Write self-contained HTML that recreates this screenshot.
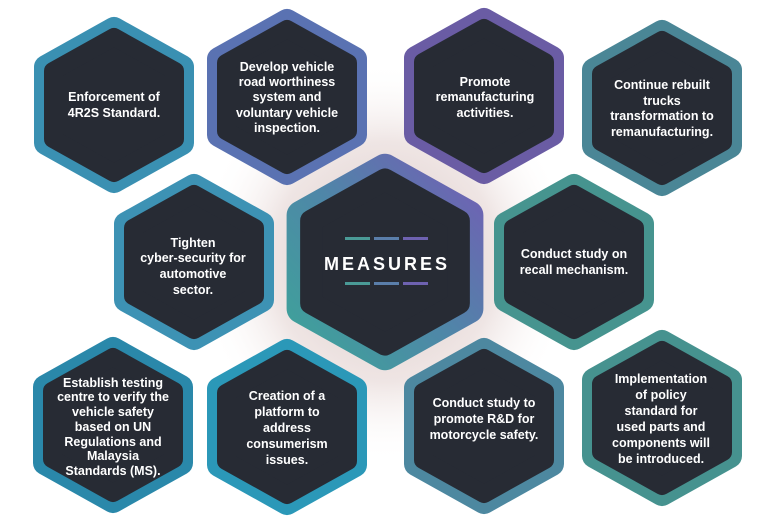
<!DOCTYPE html>
<html><head><meta charset="utf-8"><style>
html,body{margin:0;padding:0;background:#fff;}
svg{display:block;}
text{font-family:"Liberation Sans",sans-serif;font-weight:bold;fill:#fff;font-size:12.5px;text-anchor:middle;}
</style></head><body>
<svg width="782" height="524" viewBox="0 0 782 524" xmlns="http://www.w3.org/2000/svg">
<defs>
<radialGradient id="glow" cx="0.5" cy="0.5" r="0.5">
<stop offset="0" stop-color="#d6c2c0" stop-opacity="0.95"/>
<stop offset="0.6" stop-color="#e4d4d2" stop-opacity="0.6"/>
<stop offset="1" stop-color="#ffffff" stop-opacity="0"/>
</radialGradient>
<linearGradient id="cg" x1="0" y1="1" x2="1" y2="0">
<stop offset="0" stop-color="#3ea29a"/>
<stop offset="0.5" stop-color="#4f86a8"/>
<stop offset="1" stop-color="#7060b4"/>
</linearGradient>
<g id="hx">
<polygon points="0,-76 68,-38 68,38 0,76 -68,38 -68,-38" fill="currentColor" stroke="currentColor" stroke-width="24" stroke-linejoin="round"/>
<polygon points="0,-68 61,-34 61,34 0,68 -61,34 -61,-34" fill="#272b34" stroke="#272b34" stroke-width="18" stroke-linejoin="round"/>
</g>
</defs>
<ellipse cx="385" cy="262" rx="190" ry="200" fill="url(#glow)"/>

<use href="#hx" transform="translate(114,105)" color="#3a90b2"/>
<use href="#hx" transform="translate(287,97)" color="#5a72b2"/>
<use href="#hx" transform="translate(484,96)" color="#6a5ca4"/>
<use href="#hx" transform="translate(662,108)" color="#4a8696"/>
<use href="#hx" transform="translate(194,262)" color="#3d92b4"/>
<use href="#hx" transform="translate(574,262)" color="#46948f"/>
<use href="#hx" transform="translate(113,425)" color="#2a88aa"/>
<use href="#hx" transform="translate(287,427)" color="#2b98b8"/>
<use href="#hx" transform="translate(484,426)" color="#4d88a0"/>
<use href="#hx" transform="translate(662,418)" color="#46928f"/>

<g transform="translate(385,262) scale(1.23)">
<polygon points="0,-76 68,-38 68,38 0,76 -68,38 -68,-38" fill="url(#cg)" stroke="url(#cg)" stroke-width="24" stroke-linejoin="round"/>
<polygon points="0,-67 60,-33.5 60,33.5 0,67 -60,33.5 -60,-33.5" fill="#272b34" stroke="#272b34" stroke-width="18" stroke-linejoin="round"/>
</g>
<g>
<rect x="345" y="237" width="25" height="3" fill="#4a9a96"/>
<rect x="374" y="237" width="25" height="3" fill="#5a7eaa"/>
<rect x="403" y="237" width="25" height="3" fill="#6e62b0"/>
<rect x="345" y="282" width="25" height="3" fill="#4a9a96"/>
<rect x="374" y="282" width="25" height="3" fill="#5a7eaa"/>
<rect x="403" y="282" width="25" height="3" fill="#6e62b0"/>
</g>
<text x="387" y="270" style="font-size:18px;letter-spacing:3px">MEASURES</text>

<text x="114" y="101">Enforcement of</text>
<text x="114" y="117">4R2S Standard.</text>

<text x="287" y="71">Develop vehicle</text>
<text x="287" y="86">road worthiness</text>
<text x="287" y="101">system and</text>
<text x="287" y="117">voluntary vehicle</text>
<text x="287" y="132">inspection.</text>

<text x="485" y="86">Promote</text>
<text x="485" y="101">remanufacturing</text>
<text x="485" y="117">activities.</text>

<text x="662" y="89">Continue rebuilt</text>
<text x="662" y="105">trucks</text>
<text x="662" y="120">transformation to</text>
<text x="662" y="136">remanufacturing.</text>

<text x="193" y="247">Tighten</text>
<text x="193" y="262">cyber-security for</text>
<text x="193" y="278">automotive</text>
<text x="193" y="294">sector.</text>

<text x="574" y="258">Conduct study on</text>
<text x="574" y="274">recall mechanism.</text>

<text x="113" y="387">Establish testing</text>
<text x="113" y="401">centre to verify the</text>
<text x="113" y="416">vehicle safety</text>
<text x="113" y="431">based on UN</text>
<text x="113" y="446">Regulations and</text>
<text x="113" y="460">Malaysia</text>
<text x="113" y="475">Standards (MS).</text>

<text x="287" y="400">Creation of a</text>
<text x="287" y="416">platform to</text>
<text x="287" y="432">address</text>
<text x="287" y="448">consumerism</text>
<text x="287" y="464">issues.</text>

<text x="484" y="407">Conduct study to</text>
<text x="484" y="423">promote R&amp;D for</text>
<text x="484" y="439">motorcycle safety.</text>

<text x="661" y="383">Implementation</text>
<text x="661" y="399">of policy</text>
<text x="661" y="415">standard for</text>
<text x="661" y="431">used  parts and</text>
<text x="661" y="447">components will</text>
<text x="661" y="463">be introduced.</text>
</svg>
</body></html>
